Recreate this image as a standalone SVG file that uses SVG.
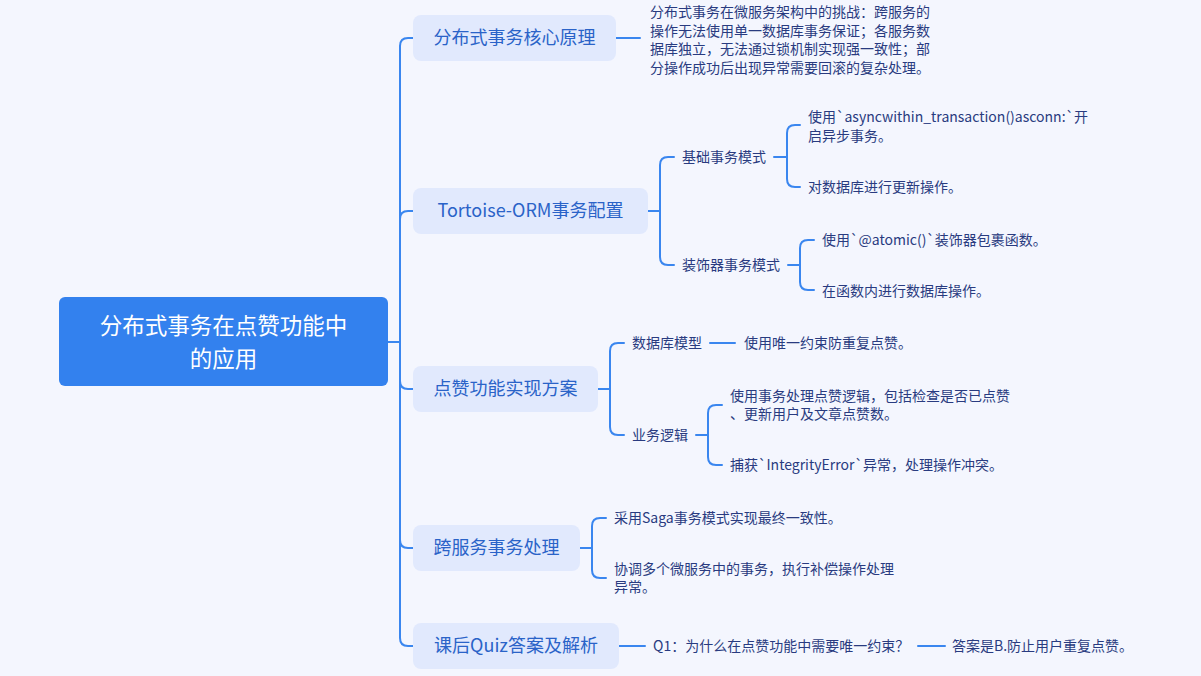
<svg xmlns="http://www.w3.org/2000/svg" width="1201" height="676" viewBox="0 0 1201 676">
<style>
.bg{fill:#f4f6fe}
.root rect{fill:#3381ee}
.root text{fill:#ffffff;font-size:22.5px;text-anchor:middle}
.l1 rect{fill:#e1e9fd}
.l1 text{fill:#2a63c8;font-size:18px;text-anchor:middle}
.leaf text{fill:#293b80;font-size:14px}
text{font-family:"Noto Sans CJK SC","Liberation Sans",sans-serif}
#connectors path{fill:none;stroke:#3a86ef;stroke-width:2;stroke-linecap:round}
</style>
<rect class="bg" x="0" y="0" width="1201" height="676"/>
<g id="connectors">
<path d="M388 342 H400"/>
<path d="M400 342 V46 Q400 38 408 38 H413"/>
<path d="M400 342 V219 Q400 211 408 211 H413"/>
<path d="M400 342 V381 Q400 389 408 389 H413"/>
<path d="M400 342 V540 Q400 548 408 548 H413"/>
<path d="M400 342 V638 Q400 646 408 646 H413"/>
<path d="M616 38 H640"/>
<path d="M648 211 H660"/>
<path d="M660 211 V165 Q660 157 668 157 H674"/>
<path d="M660 211 V257 Q660 265 668 265 H674"/>
<path d="M774 157 H787"/>
<path d="M787 157 V133 Q787 125 795 125 H800"/>
<path d="M787 157 V179 Q787 187 795 187 H800"/>
<path d="M788 265 H800"/>
<path d="M800 265 V248 Q800 240 808 240 H814"/>
<path d="M800 265 V282 Q800 290 808 290 H814"/>
<path d="M598 389 H610"/>
<path d="M610 389 V351 Q610 343 618 343 H624"/>
<path d="M610 389 V427 Q610 435 618 435 H624"/>
<path d="M710 343 H735"/>
<path d="M696 435 H708"/>
<path d="M708 435 V413 Q708 405 716 405 H722"/>
<path d="M708 435 V457 Q708 465 716 465 H722"/>
<path d="M580 548 H592"/>
<path d="M592 548 V526 Q592 518 600 518 H606"/>
<path d="M592 548 V570 Q592 578 600 578 H606"/>
<path d="M619 646 H645"/>
<path d="M918 646 H945"/>
</g>
<g id="root" class="root">
<rect x="59" y="297" width="329" height="89" rx="6"/>
<text x="223.5" y="334">分布式事务在点赞功能中</text>
<text x="223.5" y="367">的应用</text>
</g>
<g id="n1" class="l1"><rect x="413" y="15" width="203" height="46" rx="8"/><text x="514.5" y="44">分布式事务核心原理</text></g>
<g id="n2" class="l1"><rect x="413" y="188" width="235" height="46" rx="8"/><text x="530.5" y="217">Tortoise-ORM事务配置</text></g>
<g id="n3" class="l1"><rect x="413" y="366" width="185" height="46" rx="8"/><text x="505.5" y="395">点赞功能实现方案</text></g>
<g id="n4" class="l1"><rect x="413" y="525" width="167" height="46" rx="8"/><text x="496.5" y="554">跨服务事务处理</text></g>
<g id="n5" class="l1"><rect x="413" y="623" width="206" height="46" rx="8"/><text x="516" y="652">课后Quiz答案及解析</text></g>
<g id="n1a" class="leaf">
<text x="650" y="17">分布式事务在微服务架构中的挑战：跨服务的</text>
<text x="650" y="35.5">操作无法使用单一数据库事务保证；各服务数</text>
<text x="650" y="54">据库独立，无法通过锁机制实现强一致性；部</text>
<text x="650" y="72.5">分操作成功后出现异常需要回滚的复杂处理。</text>
</g>
<g id="n2a" class="leaf"><text x="682" y="162">基础事务模式</text></g>
<g id="n2a1" class="leaf"><text x="808" y="122">使用`asyncwithin_transaction()asconn:`开</text><text x="808" y="141">启异步事务。</text></g>
<g id="n2a2" class="leaf"><text x="808" y="192">对数据库进行更新操作。</text></g>
<g id="n2b" class="leaf"><text x="682" y="270">装饰器事务模式</text></g>
<g id="n2b1" class="leaf"><text x="822" y="245">使用`@atomic()`装饰器包裹函数。</text></g>
<g id="n2b2" class="leaf"><text x="822" y="296">在函数内进行数据库操作。</text></g>
<g id="n3a" class="leaf"><text x="632" y="348">数据库模型</text></g>
<g id="n3a1" class="leaf"><text x="744" y="348">使用唯一约束防重复点赞。</text></g>
<g id="n3b" class="leaf"><text x="632" y="440">业务逻辑</text></g>
<g id="n3b1" class="leaf"><text x="730" y="401">使用事务处理点赞逻辑，包括检查是否已点赞</text><text x="730" y="419">、更新用户及文章点赞数。</text></g>
<g id="n3b2" class="leaf"><text x="730" y="470">捕获`IntegrityError`异常，处理操作冲突。</text></g>
<g id="n4a" class="leaf"><text x="614" y="523">采用Saga事务模式实现最终一致性。</text></g>
<g id="n4b" class="leaf"><text x="614" y="574">协调多个微服务中的事务，执行补偿操作处理</text><text x="614" y="592">异常。</text></g>
<g id="n5a" class="leaf"><text x="653" y="651">Q1：为什么在点赞功能中需要唯一约束？</text></g>
<g id="n5a1" class="leaf"><text x="952" y="651">答案是B.防止用户重复点赞。</text></g>
</svg>
